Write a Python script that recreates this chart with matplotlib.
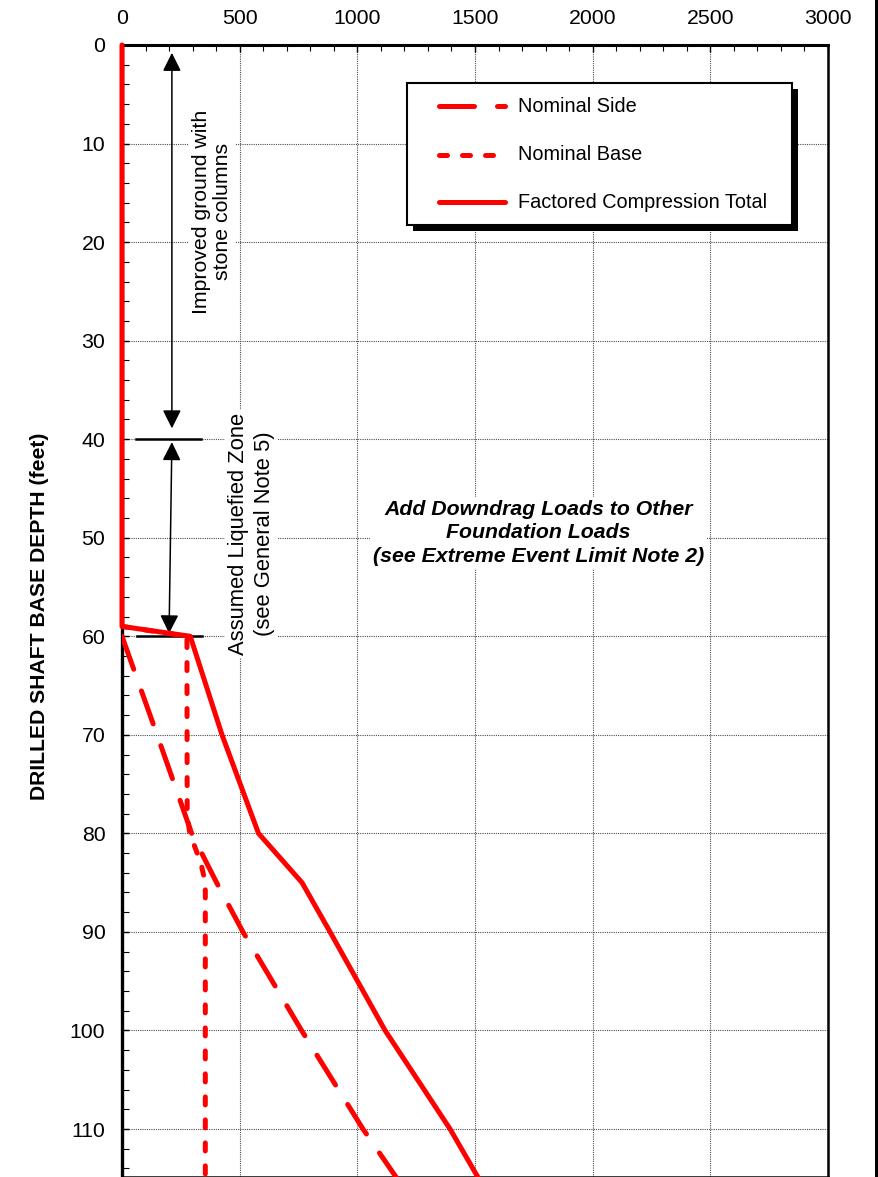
import matplotlib
matplotlib.use("Agg")
import matplotlib.pyplot as plt
from matplotlib.lines import Line2D
from matplotlib.patches import Rectangle

plt.rcParams["font.family"] = ["Liberation Sans", "DejaVu Sans"]

# Resistance curves (kips) versus drilled shaft base depth (feet)
total_depth = [0, 59, 60, 70, 80, 85, 90, 100, 110, 115]
total_load = [0, 0, 290, 425, 580, 765, 884, 1118, 1394, 1515]

side_depth = [60, 70, 80, 85, 90, 100, 110, 115]
side_load = [0, 149, 296, 402, 514, 763, 1024, 1168]

base_depth = [59, 60, 78, 80, 83, 85, 115]
base_load = [0, 276, 277, 288, 335, 354, 354]

x_ticks = [0, 500, 1000, 1500, 2000, 2500, 3000]
y_ticks = [0, 10, 20, 30, 40, 50, 60, 70, 80, 90, 100, 110]

series_labels = ["Nominal Side", "Nominal Base", "Factored Compression Total"]

RED = "#ff0000"
LW = 3.6
SIDE_DASH = (0, (7.0, 4.6))
BASE_DASH = (0, (1.6, 3.0))

W, H = 879, 1177
fig = plt.figure(figsize=(W / 100, H / 100), dpi=100)
ax = fig.add_axes([122 / W, 0, 706 / W, 1132 / H])

ax.set_xlim(0, 3000)
ax.set_ylim(114.87, 0)

ax.xaxis.tick_top()
ax.set_xticks(x_ticks)
ax.set_yticks(y_ticks)
ax.set_xticks(range(0, 3001, 100), minor=True)
ax.set_yticks(range(0, 115, 2), minor=True)
ax.tick_params(axis="both", which="both", direction="in", colors="black",
               labelsize=15.3)
ax.tick_params(axis="x", which="major", length=5, width=1, pad=12)
ax.tick_params(axis="y", which="major", length=5, width=1, pad=12)
ax.tick_params(axis="x", which="minor", length=4, width=0.8)
ax.tick_params(axis="y", which="minor", length=5, width=0.8)

ax.grid(True, which="major", color="0.3", linestyle=(0, (1, 1)), linewidth=0.8)
ax.set_axisbelow(True)

for side, lw in (("left", 2.4), ("top", 2.2), ("right", 1.8), ("bottom", 1.8)):
    ax.spines[side].set_linewidth(lw)
    ax.spines[side].set_color("black")

# Curves
ax.plot(side_load, side_depth, color=RED, lw=LW, linestyle=SIDE_DASH,
        dash_capstyle="round", zorder=4, label=series_labels[0])
ax.plot(base_load, base_depth, color=RED, lw=LW, linestyle=BASE_DASH,
        dash_capstyle="round", zorder=4, label=series_labels[1])
ax.plot(total_load, total_depth, color=RED, lw=LW, solid_capstyle="round",
        solid_joinstyle="round", zorder=5, clip_on=False,
        label=series_labels[2])

# Zone markers and dimension arrows
ax.plot([60, 335], [40, 40], color="black", lw=1.8, zorder=3)
ax.plot([64, 340], [60, 60], color="black", lw=1.8, zorder=3)
arrow = dict(arrowstyle="<|-|>,head_length=0.56,head_width=0.28",
             color="black", lw=1.1, shrinkA=0, shrinkB=0, mutation_scale=20)
ax.annotate("", xy=(212, 0.8), xytext=(212, 38.9), arrowprops=arrow, zorder=3)
ax.annotate("", xy=(212, 40.3), xytext=(200, 59.7), arrowprops=arrow, zorder=3)

white_box = dict(facecolor="white", edgecolor="none", pad=2)
ax.text(382, 16.9, "Improved ground with\nstone columns", rotation=90,
        ha="center", va="center", fontsize=15.3, linespacing=1.12,
        bbox=white_box, zorder=2.5)
ax.text(550, 49.6, "Assumed Liquefied Zone\n(see General Note 5)", rotation=90,
        ha="center", va="center", fontsize=15.8, linespacing=1.3,
        bbox=white_box, zorder=2.5)
ax.text(1770, 49.5,
        "Add Downdrag Loads to Other\nFoundation Loads\n(see Extreme Event Limit Note 2)",
        ha="center", va="center", fontsize=15.3, fontweight="bold",
        fontstyle="italic", linespacing=1.32, bbox=white_box, zorder=2.5)

# Legend box with a solid drop shadow
def ax_frac(px, py):
    return (px - 122) / 706, (1177 - py) / 1132

bx0, by0 = ax_frac(407, 225)
bx1, by1 = ax_frac(792, 83)
sx, sy = 6 / 706, 6 / 1132
ax.add_patch(Rectangle((bx0 + sx, by0 - sy), bx1 - bx0, by1 - by0,
                       transform=ax.transAxes, facecolor="black",
                       edgecolor="black", lw=0, zorder=6))
ax.add_patch(Rectangle((bx0, by0), bx1 - bx0, by1 - by0,
                       transform=ax.transAxes, facecolor="white",
                       edgecolor="black", lw=1.5, zorder=7))
legend_styles = [SIDE_DASH, BASE_DASH, "-"]
row_px = [106, 155, 202]
for label, style, rpx in zip(series_labels, legend_styles, row_px):
    lx0, ly = ax_frac(439, rpx)
    lx1, _ = ax_frac(505, rpx)
    ax.add_line(Line2D([lx0, lx1], [ly, ly], transform=ax.transAxes,
                       color=RED, lw=LW, linestyle=style,
                       dash_capstyle="round", solid_capstyle="round",
                       zorder=8))
    tx, _ = ax_frac(518, rpx)
    ax.text(tx, ly, label, transform=ax.transAxes, ha="left", va="center",
            fontsize=14.3, zorder=8)

fig.text(40 / W, 1 - 616 / H, "DRILLED SHAFT BASE DEPTH (feet)", rotation=90,
         ha="center", va="center", fontsize=15.2, fontweight="bold")

# Outer frame edge on the right
fig.add_artist(Rectangle((875 / W, 0), 4 / W, 1, transform=fig.transFigure,
                         facecolor="black", edgecolor="none"))

fig.savefig("out.png", dpi=100)
